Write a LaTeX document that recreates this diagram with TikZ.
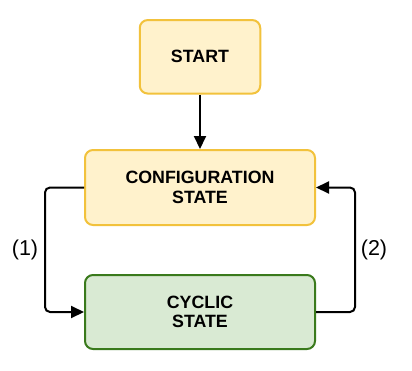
\documentclass[tikz,border=0pt]{standalone}
\usepackage{fontspec}
\setmainfont{Liberation Sans}
\usetikzlibrary{arrows.meta}
\definecolor{yfill}{HTML}{FFF2CC}
\definecolor{ystroke}{HTML}{F2C23C}
\definecolor{gfill}{HTML}{D9EAD3}
\definecolor{gstroke}{HTML}{3A7A1C}
\tikzset{
  box/.style={draw, line width=2pt, rounded corners=8pt, align=center,
    font=\fontsize{17.8}{19.5}\selectfont\bfseries, inner sep=0pt},
  ybox/.style={box, fill=yfill, draw=ystroke},
  gbox/.style={box, fill=gfill, draw=gstroke},
  conn/.style={line width=2pt, rounded corners=5pt,
    -{Triangle[length=13pt,width=12pt]}},
  lbl/.style={font=\fontsize{21.5}{24}\selectfont}
}
\begin{document}
\begin{tikzpicture}[x=1pt,y=-1pt]
\useasboundingbox (0,0) rectangle (412,370);
\node[ybox, minimum width=120.5pt, minimum height=73.5pt] (start) at (200,56.8) {START};
\node[ybox, minimum width=230pt, minimum height=75pt] (conf) at (200,187.5) {CONFIGURATION\\STATE};
\node[gbox, minimum width=230pt, minimum height=74pt] (cyc) at (200,312) {CYCLIC\\STATE};
\draw[conn] (start.south) -- (conf.north);
\draw[conn] (conf.west) -- (45,187.5) -- (45,312) -- (cyc.west);
\draw[conn] (cyc.east) -- (355,312) -- (355,187.5) -- (conf.east);
\node[lbl] (l1) at (25,250) {(1)};
\node[lbl] (l2) at (374,250) {(2)};
\end{tikzpicture}
\end{document}
